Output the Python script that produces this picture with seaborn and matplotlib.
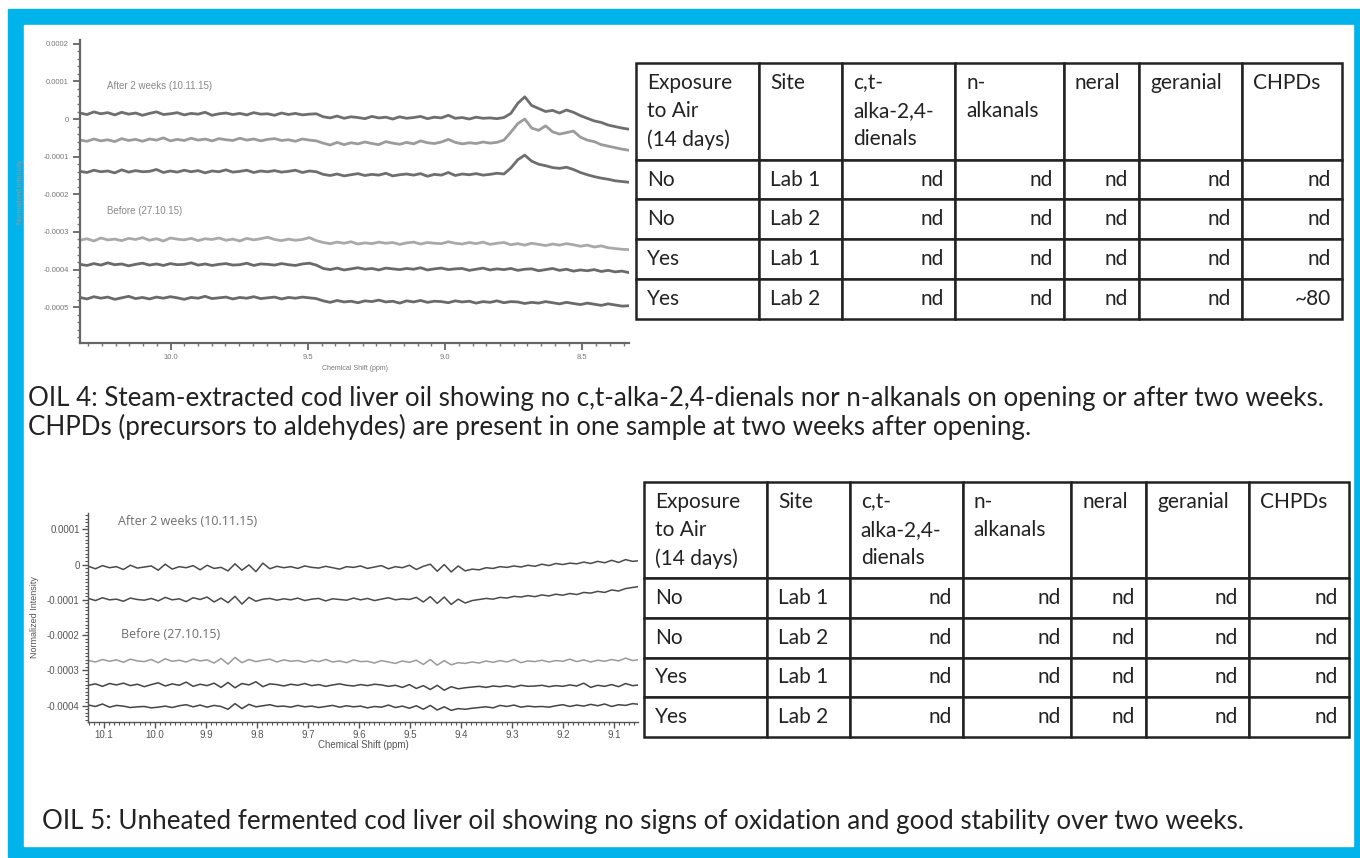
import numpy as np
import pandas as pd
import matplotlib
matplotlib.use("Agg")
import matplotlib.pyplot as plt
from matplotlib.patches import Rectangle
from matplotlib.ticker import MultipleLocator
import seaborn as sns

# ---- data (intensities, in units of 1e-5) ----
# OIL 4 spectrum, 10.33 -> 8.33 ppm
oil4_ppm_range = (10.33, 8.33)
oil4_after_1 = [1.6, 1.2, 1.9, 1.4, 1.7, 1.1, 1.8, 1.3, 1.6, 1.0, 1.5, 1.9, 1.2, 1.4, 1.7, 1.1, 1.5, 1.3, 1.8, 1.0,
                1.4, 1.6, 1.2, 1.5, 1.1, 1.7, 1.3, 1.4, 1.0, 1.6, 1.2, 1.5, 1.1, 1.3, 1.4, 0.6, 0.3, 0.8, 0.2, 0.6,
                0.4, 0.1, 0.7, 0.3, 0.5, 0.0, 0.6, 0.2, 0.4, 0.7, 0.1, 0.5, 0.3, 1.0, 0.2, 0.4, 0.0, 0.5, 0.2, 0.3,
                0.1, 0.4, 1.5, 4.2, 5.9, 3.6, 2.8, 2.0, 2.3, 1.6, 2.4, 1.8, 0.9, 0.2, -0.5, -0.9, -1.6, -2.0, -2.4, -2.7]
oil4_after_2 = [-5.6, -5.9, -5.3, -5.8, -5.5, -6.0, -5.2, -5.7, -5.4, -5.9, -5.3, -5.6, -5.0, -5.8, -5.4, -5.7, -5.1, -5.6, -5.3, -5.8,
                -5.2, -5.5, -5.7, -5.1, -5.6, -5.3, -5.8, -5.4, -5.2, -5.7, -5.5, -5.9, -5.3, -5.6, -5.8, -6.4, -6.9, -6.2, -6.8, -6.3,
                -6.6, -6.1, -6.5, -6.8, -6.0, -6.4, -6.7, -6.2, -6.6, -5.8, -6.3, -6.5, -6.1, -5.4, -6.2, -6.6, -6.3, -6.5, -6.1, -6.4,
                -6.2, -5.6, -3.5, -1.2, 0.0, -2.4, -3.0, -1.8, -3.4, -4.0, -3.6, -3.2, -4.8, -5.6, -6.0, -6.8, -7.2, -7.6, -8.0, -8.3]
oil4_after_3 = [-13.9, -14.2, -13.6, -14.0, -13.8, -14.3, -13.5, -14.1, -13.7, -14.0, -13.9, -13.4, -14.2, -13.8, -14.1, -13.6, -14.0, -13.7, -14.3, -13.8,
                -14.0, -13.5, -14.1, -13.9, -13.6, -14.2, -13.8, -14.0, -13.7, -14.1, -13.9, -13.6, -14.2, -13.8, -14.0, -14.7, -15.0, -14.6, -15.1, -14.8,
                -14.5, -15.0, -14.7, -14.9, -14.4, -15.1, -14.8, -14.6, -14.9, -14.5, -15.2, -14.7, -14.9, -14.2, -15.0, -14.6, -14.8, -14.5, -14.9, -14.7,
                -14.4, -14.6, -13.0, -10.8, -9.6, -11.2, -12.0, -12.4, -12.9, -13.1, -12.8, -13.4, -14.2, -14.8, -15.3, -15.7, -16.0, -16.4, -16.6, -16.8]
oil4_before_1 = [-32.2, -31.8, -32.4, -31.6, -32.1, -31.9, -32.3, -31.7, -32.0, -31.5, -32.2, -31.8, -32.4, -31.6, -31.9, -32.1, -31.7, -32.3, -31.8, -32.0,
                 -31.6, -32.2, -31.9, -32.4, -31.7, -32.1, -31.8, -31.4, -32.0, -32.3, -31.9, -32.2, -32.0, -31.5, -32.3, -32.8, -33.1, -32.7, -33.0, -32.6,
                 -33.2, -32.9, -33.1, -32.7, -33.0, -32.8, -33.3, -32.9, -32.7, -33.2, -32.8, -33.0, -33.1, -32.6, -33.0, -33.2, -32.8, -33.1, -32.7, -33.3,
                 -33.0, -32.8, -33.4, -33.1, -33.5, -33.0, -33.3, -33.6, -33.2, -33.5, -33.1, -33.4, -33.8, -33.5, -34.0, -33.7, -34.2, -34.4, -34.6, -34.7]
oil4_before_2 = [-38.6, -38.9, -38.4, -38.8, -38.2, -38.7, -38.5, -39.0, -38.6, -38.3, -38.8, -38.5, -38.9, -38.4, -38.7, -38.6, -38.2, -38.8, -38.5, -38.9,
                 -38.6, -38.4, -38.8, -38.7, -38.3, -38.9, -38.5, -38.6, -38.8, -38.4, -38.7, -38.9, -38.5, -38.3, -38.8, -39.7, -40.0, -39.6, -40.1, -39.8,
                 -39.5, -39.9, -39.7, -40.1, -39.6, -39.8, -40.0, -39.7, -39.9, -39.5, -40.1, -39.8, -39.6, -40.0, -39.8, -39.7, -40.2, -39.9, -39.6, -40.1,
                 -39.8, -40.0, -39.7, -40.2, -39.9, -39.8, -40.3, -40.0, -39.7, -40.2, -39.9, -40.4, -40.1, -40.3, -40.0, -40.5, -40.2, -40.6, -40.4, -40.8]
oil4_before_3 = [-47.4, -47.8, -47.2, -47.6, -47.3, -47.9, -47.5, -47.1, -47.7, -47.4, -47.8, -47.3, -47.6, -47.2, -47.5, -47.9, -47.4, -47.6, -47.1, -47.7,
                 -47.5, -47.3, -47.8, -47.4, -47.6, -47.2, -47.7, -47.5, -47.3, -47.8, -47.4, -47.6, -47.3, -47.5, -47.7, -48.3, -48.7, -48.2, -48.6, -48.4,
                 -48.8, -48.3, -48.5, -48.1, -48.6, -48.4, -48.9, -48.3, -48.6, -48.2, -48.7, -48.4, -48.5, -48.8, -48.3, -48.6, -48.4, -48.9, -48.5, -48.7,
                 -48.3, -48.8, -48.5, -48.6, -49.0, -48.7, -48.9, -48.5, -48.8, -49.1, -48.7, -49.0, -49.3, -48.9, -49.2, -49.5, -49.1, -49.4, -49.7, -49.6]

# OIL 5 spectrum, 10.13 -> 9.05 ppm
oil5_ppm_range = (10.13, 9.05)
oil5_after_1 = [-0.5, -1.2, -0.3, -0.9, -0.6, -1.4, -0.2, -1.0, -0.7, -0.4, -1.6, 0.1, -1.3, -0.6, -0.9, -0.3, -1.5, -0.2, -1.1, -0.8,
                -1.8, 0.2, -1.6, -0.1, -2.0, 0.4, -1.2, -0.5, -0.9, -0.6, -1.1, -0.4, -0.8, -1.0, -0.5, -0.9, -1.3, -0.6, -0.8, -0.4,
                -1.1, -0.7, -0.3, -1.2, -0.6, -0.9, -0.2, -1.4, -0.5, 0.1, -1.9, 0.0, -2.1, -0.4, -1.8, -1.3, -1.5, -0.9, -1.1, -0.6,
                -0.8, -0.4, -0.7, -0.2, -0.5, 0.1, -0.3, 0.3, 0.0, 0.4, 0.2, 0.7, 0.3, 0.9, 0.5, 1.2, 0.6, 1.4, 0.9, 1.1]
oil5_after_2 = [-9.6, -10.2, -9.4, -10.0, -9.8, -10.4, -9.5, -9.9, -10.1, -9.6, -10.3, -9.3, -10.0, -9.7, -10.5, -9.4, -9.9, -9.2, -10.6, -9.5,
                -10.8, -9.0, -11.2, -9.3, -10.4, -9.8, -9.6, -10.1, -9.7, -10.0, -9.5, -10.2, -9.8, -9.6, -10.3, -9.7, -9.9, -10.1, -9.5, -10.0,
                -9.6, -10.2, -9.8, -9.4, -10.0, -9.7, -9.9, -9.3, -10.6, -9.1, -11.0, -9.2, -11.3, -9.8, -10.9, -10.2, -9.9, -9.6, -9.8, -9.3,
                -9.5, -9.0, -9.2, -8.8, -9.1, -8.6, -8.9, -8.4, -8.7, -8.2, -8.5, -7.9, -8.1, -7.6, -7.9, -7.2, -7.5, -6.8, -6.5, -6.2]
oil5_before_1 = [-27.2, -27.6, -26.9, -27.4, -27.0, -27.7, -26.8, -27.3, -27.5, -26.9, -27.8, -26.7, -27.4, -27.1, -27.6, -26.8, -27.3, -27.0, -27.9, -26.6,
                 -28.2, -26.3, -27.8, -26.9, -27.5, -27.1, -26.8, -27.6, -27.0, -27.4, -27.2, -27.7, -27.1, -27.5, -26.9, -27.6, -27.3, -27.8, -27.0, -27.5,
                 -27.4, -27.9, -27.2, -27.6, -28.0, -27.3, -27.7, -27.1, -28.3, -26.9, -28.5, -27.2, -28.4, -27.8, -28.0, -27.6, -27.9, -27.3, -27.7, -27.2,
                 -27.6, -26.9, -27.8, -27.3, -27.5, -27.1, -27.6, -27.2, -27.4, -26.8, -27.5, -27.0, -27.6, -27.1, -27.4, -26.9, -27.3, -26.5, -27.2, -26.9]
oil5_before_2 = [-34.2, -33.8, -34.5, -33.7, -34.1, -33.6, -34.3, -33.9, -34.6, -34.0, -33.5, -34.4, -33.8, -34.2, -33.3, -34.5, -33.9, -34.3, -33.6, -34.8,
                 -33.4, -34.9, -33.7, -34.1, -33.2, -34.6, -33.8, -34.0, -34.4, -33.9, -34.2, -33.7, -34.3, -34.0, -34.5, -34.1, -33.8, -34.2, -34.4, -34.0,
                 -34.3, -33.9, -34.1, -34.5, -34.2, -34.8, -34.0, -35.1, -34.3, -35.4, -34.2, -35.6, -34.6, -35.2, -34.9, -34.7, -34.5, -34.8, -34.4, -34.6,
                 -34.3, -34.7, -34.2, -34.5, -34.4, -34.2, -34.6, -34.3, -34.5, -34.1, -34.4, -33.6, -34.8, -34.2, -34.5, -34.0, -34.6, -33.7, -34.3, -34.1]
oil5_before_3 = [-39.8, -40.2, -39.5, -40.4, -39.9, -40.1, -40.5, -40.3, -40.2, -40.6, -40.4, -40.1, -40.5, -40.0, -39.7, -40.3, -39.8, -40.4, -39.9, -40.2,
                 -41.0, -39.4, -40.8, -39.6, -40.3, -40.0, -39.7, -40.2, -40.1, -40.4, -39.9, -40.3, -40.1, -40.5, -40.2, -39.9, -40.4, -40.0, -40.3, -40.1,
                 -40.6, -40.2, -40.4, -39.8, -40.5, -40.1, -40.7, -40.0, -41.0, -39.9, -41.2, -40.3, -41.3, -40.8, -41.0, -40.7, -40.5, -40.3, -40.6, -39.9,
                 -40.2, -39.8, -40.4, -40.1, -40.3, -40.2, -40.4, -40.0, -39.7, -40.2, -39.8, -40.1, -39.6, -40.0, -39.5, -40.2, -39.7, -39.9, -39.4, -39.6]

oil4_yticks = [0.0002, 0.0001, 0, -0.0001, -0.0002, -0.0003, -0.0004, -0.0005]
oil4_yticklabels = ["0.0002", "0.0001", "0", "-0.0001", "-0.0002", "-0.0003", "-0.0004", "-0.0005"]
oil4_xticks = [10.0, 9.5, 9.0, 8.5]
oil4_xticklabels = ["10.0", "9.5", "9.0", "8.5"]
oil5_yticks = [0.0001, 0, -0.0001, -0.0002, -0.0003, -0.0004]
oil5_yticklabels = ["0.0001", "0", "-0.0001", "-0.0002", "-0.0003", "-0.0004"]
oil5_xticks = [10.1, 10.0, 9.9, 9.8, 9.7, 9.6, 9.5, 9.4, 9.3, 9.2, 9.1]
oil5_xticklabels = ["10.1", "10.0", "9.9", "9.8", "9.7", "9.6", "9.5", "9.4", "9.3", "9.2", "9.1"]

table_header = ["Exposure\nto Air\n(14 days)", "Site\n\n", "c,t-\nalka-2,4-\ndienals", "n-\nalkanals\n",
                "neral\n\n", "geranial\n\n", "CHPDs\n\n"]
exposure = ["No", "No", "Yes", "Yes"]
site = ["Lab 1", "Lab 2", "Lab 1", "Lab 2"]
oil4_values = [["nd", "nd", "nd", "nd", "nd"],
               ["nd", "nd", "nd", "nd", "nd"],
               ["nd", "nd", "nd", "nd", "nd"],
               ["nd", "nd", "nd", "nd", "~80"]]
oil5_values = [["nd", "nd", "nd", "nd", "nd"],
               ["nd", "nd", "nd", "nd", "nd"],
               ["nd", "nd", "nd", "nd", "nd"],
               ["nd", "nd", "nd", "nd", "nd"]]

caption4 = ["OIL 4: Steam-extracted cod liver oil showing no c,t-alka-2,4-dienals nor n-alkanals on opening or after two weeks.",
            "CHPDs (precursors to aldehydes) are present in one sample at two weeks after opening."]
caption5 = "OIL 5: Unheated fermented cod liver oil showing no signs of oxidation and good stability over two weeks."

# ---- style ----
sns.set_theme(style="ticks")
plt.rcParams['font.family'] = ['Lato', 'DejaVu Sans']
CYAN = "#00B3EA"
W, H = 1360, 858

fig = plt.figure(figsize=(13.6, 8.58), dpi=100)


def box(x0, y0, x1, y1):
    # pixel box (top-left origin) -> figure fraction rect
    return [x0 / W, 1 - y1 / H, (x1 - x0) / W, (y1 - y0) / H]


# cyan frame
r = box(8, 9, 1360, 857)
fig.add_artist(Rectangle((r[0], r[1]), r[2], r[3], transform=fig.transFigure, color=CYAN, zorder=-10))
r = box(24, 25, 1353, 846)
fig.add_artist(Rectangle((r[0], r[1]), r[2], r[3], transform=fig.transFigure, color="white", zorder=-9))


def draw_spectrum(ax, ppm_range, traces, colors, lw, alpha):
    ppm = np.linspace(ppm_range[0], ppm_range[1], len(traces[0]))
    for vals, col in zip(traces, colors):
        df = pd.DataFrame({"ppm": ppm, "intensity": np.array(vals) * 1e-5})
        sns.lineplot(data=df, x="ppm", y="intensity", ax=ax, color=col, lw=lw, alpha=alpha,
                     estimator=None, sort=False)
    ax.set_facecolor("none")
    sns.despine(ax=ax)


# ---- OIL 4 spectrum (blurry screenshot in the original) ----
ax1 = fig.add_axes(box(80, 40, 629, 343))
draw_spectrum(ax1, oil4_ppm_range,
              [oil4_after_1, oil4_after_2, oil4_after_3, oil4_before_1, oil4_before_2, oil4_before_3],
              ["#555555", "#8a8a8a", "#555555", "#9a9a9a", "#505050", "#505050"], 2.0, 0.85)
ax1.set_xlim(10.33, 8.33)
ax1.set_ylim(-0.000595, 0.00021)
ax1.set_yticks(oil4_yticks)
ax1.set_yticklabels(oil4_yticklabels)
ax1.set_xticks(oil4_xticks)
ax1.set_xticklabels(oil4_xticklabels)
ax1.xaxis.set_minor_locator(MultipleLocator(0.05))
ax1.yaxis.set_minor_locator(MultipleLocator(0.00002))
ax1.tick_params(which="major", length=5, width=1.3, color="#666666", labelsize=5.5, labelcolor="#777777", pad=3)
ax1.tick_params(which="minor", length=2.5, width=1.0, color="#777777")
for sp in ax1.spines.values():
    sp.set_color("#666666")
    sp.set_linewidth(1.6)
ax1.set_xlabel("Chemical Shift (ppm)", fontsize=5, color="#777777", family="Liberation Sans", labelpad=3)
ax1.set_ylabel("Normalized Intensity", fontsize=5, color="#999999", family="Liberation Sans", labelpad=14)
ax1.text(10.23, 0.000088, "After 2 weeks (10.11.15)", fontsize=7, color="#888888", va="center", ha="left",
         family="Liberation Sans")
ax1.text(10.23, -0.000243, "Before (27.10.15)", fontsize=7, color="#888888", va="center", ha="left",
         family="Liberation Sans")
for tl in ax1.get_xticklabels() + ax1.get_yticklabels():
    tl.set_family("Liberation Sans")

# ---- OIL 5 spectrum ----
ax2 = fig.add_axes(box(88, 513, 638, 722))
draw_spectrum(ax2, oil5_ppm_range,
              [oil5_after_1, oil5_after_2, oil5_before_1, oil5_before_2, oil5_before_3],
              ["#4a4a4a", "#4a4a4a", "#9a9a9a", "#444444", "#444444"], 1.1, 1.0)
ax2.set_xlim(10.131, 9.053)
ax2.set_ylim(-0.000446, 0.000146)
ax2.set_yticks(oil5_yticks)
ax2.set_yticklabels(oil5_yticklabels)
ax2.set_xticks(oil5_xticks)
ax2.set_xticklabels(oil5_xticklabels)
ax2.xaxis.set_minor_locator(MultipleLocator(0.01))
ax2.yaxis.set_minor_locator(MultipleLocator(0.00001))
ax2.tick_params(which="major", length=4, width=1.0, color="#555555", labelsize=7, labelcolor="#555555", pad=2)
ax2.tick_params(which="minor", length=2, width=0.8, color="#555555")
for tl in ax2.get_xticklabels() + ax2.get_yticklabels():
    tl.set_family("Liberation Sans")
for sp in ax2.spines.values():
    sp.set_color("#555555")
    sp.set_linewidth(1.0)
ax2.set_xlabel("Chemical Shift (ppm)", fontsize=7, color="#555555", family="Liberation Sans", labelpad=0)
ax2.set_ylabel("Normalized Intensity", fontsize=6.5, color="#555555", family="Liberation Sans", labelpad=6)
ax2.text(10.072, 0.000123, "After 2 weeks (10.11.15)", fontsize=9, color="#6e6e6e", va="center", ha="left",
         family="Open Sans")
ax2.text(10.066, -0.000197, "Before (27.10.15)", fontsize=9, color="#6e6e6e", va="center", ha="left",
         family="Open Sans")

# ---- tables ----
col_px = [123, 83, 113, 109, 75, 103, 100]
row_px = [97, 40, 40, 40, 40]


def draw_table(rect, values):
    ax = fig.add_axes(rect)
    ax.axis("off")
    body = [[e, s] + v for e, s, v in zip(exposure, site, values)]
    tab = ax.table(cellText=[table_header] + body, cellLoc="left", bbox=[0, 0, 1, 1])
    tab.auto_set_font_size(False)
    tab.set_fontsize(15)
    for (ri, ci), cell in tab.get_celld().items():
        cell.set_width(col_px[ci])
        cell.set_height(row_px[ri])
        cell.set_edgecolor("#222222")
        cell.set_linewidth(1.8)
        cell.PAD = 11 / col_px[ci]
        txt = cell.get_text()
        txt.set_color("#222222")
        txt.set_linespacing(1.5)
        if ri > 0 and ci >= 2:
            txt.set_ha("right")
    return tab


draw_table(box(636, 63, 1342, 319), oil4_values)
draw_table(box(644, 482, 1349, 737), oil5_values)

# ---- captions ----
t1 = fig.text(28 / W, 1 - 399 / H, caption4[0], fontsize=14, color="#222222", va="center", ha="left")
renderer = fig.canvas.get_renderer()
fs = 14 * 1300 / t1.get_window_extent(renderer).width
t1.set_fontsize(fs)
fig.text(28 / W, 1 - 427 / H, caption4[1], fontsize=fs, color="#222222", va="center", ha="left")
fig.text(42 / W, 1 - 822 / H, caption5, fontsize=fs, color="#222222", va="center", ha="left")

fig.savefig("out.png", dpi=100)
